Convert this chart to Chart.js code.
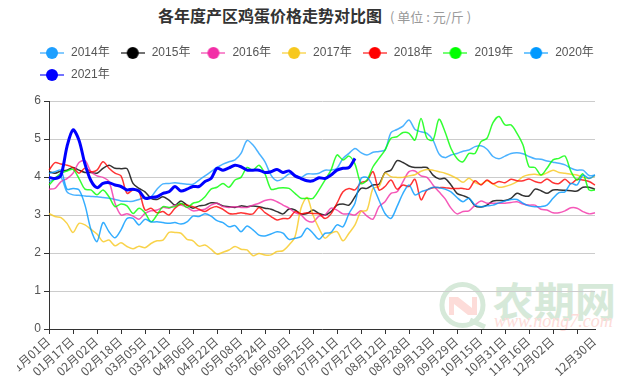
<!DOCTYPE html>
<html lang="zh-CN">

<head>
    <meta charset="UTF-8">
    <title>各年度产区鸡蛋价格走势对比图</title>
    <script src="https://cdn.jsdelivr.net/npm/chart.js"></script>
    <style>
        body {
            margin: 0;
            background: #fff;
            font-family: "Noto Sans CJK SC", sans-serif;
        }

        .wrap {
            position: relative;
            width: 622px;
            height: 383px;
            overflow: hidden;
        }

        /* Title row */
        .title {
            position: absolute;
            left: 158px;
            top: 3px;
            font-size: 16px;
            line-height: 24px;
            font-weight: bold;
            color: #333;
            white-space: nowrap;
        }

        .title span {
            margin-left: 8px;
            font-size: 13px;
            font-weight: normal;
            color: #999;
        }

        /* Watermark sits behind the canvas */
        .mark {
            position: absolute;
            left: 0;
            top: 0;
        }

        .mark-cn {
            position: absolute;
            left: 493px;
            top: 275px;
            font-size: 41px;
            line-height: 48px;
            color: #d6e9d9;
            white-space: nowrap;
            font-family: "Noto Sans CJK SC", sans-serif;
            font-weight: bold;
        }

        .mark-url {
            position: absolute;
            left: 494px;
            top: 311px;
            font-size: 18px;
            line-height: 20px;
            font-style: italic;
            color: #fddcd9;
            white-space: nowrap;
            font-family: "Liberation Serif", serif;
        }

        canvas {
            position: absolute;
            left: 17px;
            top: 0;
        }
    </style>
</head>

<body>
    <div class="wrap">
        <svg class="mark" width="622" height="383">
            <circle cx="462.5" cy="305" r="20.5" fill="none" stroke="#d6e9d9" stroke-width="5"></circle>
            <path d="M470 320 L485 327" stroke="#d6e9d9" stroke-width="5" fill="none"></path>
            <path d="M449 297 V315 H454 V304 L468 315 H477 V297 H472 V308 L458 297 Z" fill="#fddcd9"></path>
        </svg>
        <div class="mark-cn">农期网</div>
        <div class="mark-url">www.nong7.com</div>
        <div class="title">各年度产区鸡蛋价格走势对比图<span>( 单位 : 元/斤 )</span></div>
        <canvas id="eggChart" width="605" height="383"></canvas>
    </div>

    <script>
        // Categories: one every 4 days, a tick label shows on every 4th of them
        const dates = [
            '01月01日', '01月05日', '01月09日', '01月13日', '01月17日', '01月21日', '01月25日', '01月29日',
            '02月02日', '02月06日', '02月10日', '02月14日', '02月18日', '02月22日', '02月26日',
            '03月01日', '03月05日', '03月09日', '03月13日', '03月17日', '03月21日', '03月25日', '03月29日',
            '04月02日', '04月06日', '04月10日', '04月14日', '04月18日', '04月22日', '04月26日', '04月30日',
            '05月04日', '05月08日', '05月12日', '05月16日', '05月20日', '05月24日', '05月28日',
            '06月01日', '06月05日', '06月09日', '06月13日', '06月17日', '06月21日', '06月25日', '06月29日',
            '07月03日', '07月07日', '07月11日', '07月15日', '07月19日', '07月23日', '07月27日', '07月31日',
            '08月04日', '08月08日', '08月12日', '08月16日', '08月20日', '08月24日', '08月28日',
            '09月01日', '09月05日', '09月09日', '09月13日', '09月17日', '09月21日', '09月25日', '09月29日',
            '10月03日', '10月07日', '10月11日', '10月15日', '10月19日', '10月23日', '10月27日', '10月31日',
            '11月04日', '11月08日', '11月12日', '11月16日', '11月20日', '11月24日', '11月28日',
            '12月02日', '12月06日', '12月10日', '12月14日', '12月18日', '12月22日', '12月26日', '12月30日'
        ];

        const years = ['2014年', '2015年', '2016年', '2017年', '2018年', '2019年', '2020年', '2021年'];

        const prices2014 = [
            3.88, 3.94, 3.99, 3.61, 3.53, 3.52, 3.50, 3.49, 3.48, 3.46, 3.44, 3.41, 3.37, 3.36, 3.36, 3.41,
            3.46, 3.48, 3.68, 3.82, 3.83, 3.85, 3.83, 3.81, 3.81, 3.92, 4.03, 4.14, 4.25, 4.34, 4.40, 4.45,
            4.62, 4.96, 4.84, 4.62, 4.40, 4.05, 3.90, 3.96, 4.08, 4.05, 3.99, 4.08, 4.08, 4.10, 4.18, 4.18,
            4.23, 4.49, 4.62, 4.75, 4.64, 4.58, 4.65, 4.67, 4.71, 5.17, 5.25, 5.34, 5.50, 5.25, 5.19, 5.15,
            4.97, 4.61, 4.51, 4.58, 4.62, 4.68, 4.71, 4.80, 4.82, 4.73, 4.54, 4.48, 4.55, 4.62, 4.64, 4.61,
            4.54, 4.48, 4.47, 4.42, 4.39, 4.36, 4.32, 4.23, 4.18, 4.18, 4.04, 4.05
        ];
        const prices2015 = [
            4.14, 4.10, 4.16, 4.18, 4.25, 4.18, 4.12, 4.12, 4.10, 4.23, 4.31, 4.23, 4.22, 4.22, 3.83, 3.70,
            3.61, 3.44, 3.41, 3.48, 3.39, 3.26, 3.37, 3.26, 3.18, 3.24, 3.26, 3.32, 3.31, 3.24, 3.22, 3.20,
            3.24, 3.22, 3.24, 3.22, 3.18, 3.15, 3.09, 3.03, 3.16, 3.13, 3.03, 3.04, 3.13, 3.04, 3.00, 3.09,
            3.26, 3.29, 3.26, 3.48, 3.70, 3.70, 3.79, 3.81, 4.12, 4.18, 4.43, 4.38, 4.29, 4.25, 4.25, 4.25,
            4.05, 3.95, 3.96, 3.79, 3.57, 3.51, 3.44, 3.24, 3.21, 3.26, 3.37, 3.38, 3.38, 3.44, 3.57, 3.51,
            3.50, 3.68, 3.64, 3.57, 3.66, 3.66, 3.65, 3.64, 3.63, 3.73, 3.73, 3.68
        ];
        const prices2016 = [
            3.68, 3.70, 3.88, 3.96, 4.10, 4.38, 4.43, 4.14, 4.03, 3.99, 3.88, 3.31, 3.00, 3.03, 2.97, 2.89,
            3.04, 3.11, 3.13, 3.20, 3.18, 3.26, 3.26, 3.20, 3.11, 3.13, 3.15, 3.26, 3.31, 3.22, 3.20, 3.22,
            3.20, 3.20, 3.26, 3.31, 3.38, 3.41, 3.35, 3.26, 3.18, 3.06, 3.00, 2.85, 2.82, 2.97, 3.00, 3.18,
            3.13, 3.03, 3.03, 3.00, 3.11, 2.97, 2.89, 3.22, 3.35, 3.57, 3.61, 3.88, 4.14, 4.16, 4.03, 3.99,
            3.79, 3.61, 3.43, 3.18, 3.03, 3.09, 3.11, 3.26, 3.37, 3.31, 3.31, 3.31, 3.31, 3.33, 3.35, 3.29,
            3.26, 3.26, 3.15, 3.13, 3.06, 3.06, 3.11, 3.19, 3.18, 3.09, 3.03, 3.06
        ];
        const prices2017 = [
            3.04, 2.96, 2.93, 2.78, 2.54, 2.78, 2.74, 2.62, 2.50, 2.30, 2.34, 2.19, 2.27, 2.17, 2.11, 2.18,
            2.14, 2.25, 2.32, 2.34, 2.54, 2.54, 2.52, 2.36, 2.32, 2.18, 2.21, 2.10, 1.97, 2.02, 2.08, 2.17,
            2.10, 2.08, 1.93, 1.99, 1.95, 1.95, 2.04, 2.06, 2.21, 2.43, 3.18, 3.46, 3.00, 2.65, 2.39, 2.52,
            2.56, 2.32, 2.52, 2.74, 3.09, 3.13, 3.70, 3.75, 4.10, 4.01, 3.99, 3.99, 4.03, 4.06, 4.15, 4.20,
            4.18, 4.14, 4.10, 4.04, 3.96, 3.86, 3.97, 3.85, 3.81, 3.90, 3.82, 3.73, 3.75, 3.80, 3.88, 4.01,
            4.06, 4.07, 4.05, 4.11, 4.18, 4.12, 4.10, 4.07, 4.05, 3.99, 3.96, 4.03
        ];
        const prices2018 = [
            4.18, 4.38, 4.34, 4.31, 4.25, 4.10, 4.23, 4.14, 4.18, 4.40, 4.23, 4.10, 4.03, 3.57, 3.66, 3.61,
            3.13, 3.18, 3.06, 3.09, 3.00, 3.18, 3.29, 3.26, 3.22, 3.15, 3.09, 3.18, 3.22, 3.15, 3.04, 3.03,
            3.06, 3.03, 3.03, 3.20, 3.06, 2.96, 2.87, 2.91, 2.91, 3.09, 3.03, 3.06, 3.04, 3.03, 2.91, 3.03,
            3.31, 3.61, 3.70, 3.66, 3.85, 3.90, 4.14, 3.66, 3.75, 3.92, 3.68, 3.79, 3.75, 3.94, 3.40, 3.66,
            3.72, 3.72, 3.72, 3.70, 3.70, 3.70, 3.68, 3.90, 3.79, 3.92, 3.82, 3.88, 3.85, 3.94, 3.90, 3.90,
            3.95, 3.88, 3.85, 3.95, 3.85, 3.83, 3.94, 3.82, 3.94, 3.92, 3.88, 3.79
        ];
        const prices2019 = [
            3.79, 3.96, 4.10, 4.16, 4.20, 3.96, 3.68, 3.66, 3.53, 3.66, 3.48, 3.22, 3.29, 3.24, 3.04, 3.18,
            3.06, 2.82, 3.00, 3.22, 3.20, 3.22, 3.31, 3.20, 3.31, 3.35, 3.48, 3.68, 3.73, 3.83, 3.73, 3.92,
            3.99, 4.25, 4.18, 4.31, 4.08, 3.68, 3.70, 3.72, 3.70, 3.57, 3.44, 3.44, 3.44, 3.66, 3.92, 4.18,
            4.58, 4.45, 4.55, 4.34, 3.83, 3.92, 4.27, 4.49, 4.71, 5.02, 5.06, 5.17, 5.15, 4.97, 5.54, 5.02,
            4.97, 5.52, 5.19, 4.75, 4.49, 4.40, 4.62, 4.62, 4.93, 5.02, 5.43, 5.59, 5.37, 5.37, 5.15, 4.84,
            4.27, 4.25, 4.05, 4.23, 4.45, 4.49, 4.55, 4.14, 3.92, 4.08, 3.66, 3.66
        ];
        const prices2020 = [
            4.10, 4.14, 4.18, 3.68, 3.70, 3.66, 3.26, 2.61, 2.30, 2.80, 2.56, 2.40, 2.61, 2.91, 2.91, 2.74,
            2.89, 2.82, 2.82, 2.80, 2.78, 2.80, 2.76, 2.82, 2.97, 2.96, 3.03, 2.97, 2.85, 2.80, 2.69, 2.72,
            2.56, 2.71, 2.61, 2.47, 2.45, 2.50, 2.56, 2.52, 2.36, 2.39, 2.43, 2.65, 2.52, 2.36, 2.52, 2.54,
            2.74, 2.69, 3.04, 3.31, 3.96, 3.99, 3.75, 3.39, 3.04, 2.91, 3.22, 3.57, 3.79, 3.53, 3.61, 3.66,
            3.73, 3.72, 3.68, 3.61, 3.46, 3.35, 3.44, 3.26, 3.22, 3.24, 3.26, 3.32, 3.37, 3.41, 3.41, 3.31,
            3.24, 3.22, 3.22, 3.26, 3.44, 3.59, 3.61, 3.83, 3.79, 4.05, 3.96, 4.05
        ];
        const prices2021 = [
            3.99, 3.96, 4.05, 4.80, 5.24, 4.97, 4.34, 3.90, 3.72, 3.83, 3.85, 3.79, 3.75, 3.66, 3.68, 3.63,
            3.44, 3.46, 3.48, 3.57, 3.61, 3.75, 3.63, 3.68, 3.75, 3.75, 3.88, 3.96, 4.23, 4.18, 4.24, 4.31,
            4.27, 4.18, 4.18, 4.18, 4.12, 4.14, 4.20, 4.12, 4.16, 4.03, 3.96, 3.90, 3.90, 3.98, 3.96, 4.05,
            4.18, 4.23, 4.25, 4.49
        ];

        const lineColors = ['#1e9fff', '#000000', '#f22ea6', '#f7c81e', '#ff0000', '#00ff00', '#0099ff', '#0000ff'];
        const seriesPrices = [prices2014, prices2015, prices2016, prices2017, prices2018, prices2019, prices2020, prices2021];

        // Line with a dot on it, the legend marker of the original
        function legendMarker(color) {
            const c = document.createElement('canvas');
            c.width = 24;
            c.height = 14;
            const g = c.getContext('2d');
            g.globalAlpha = 0.55;
            g.fillStyle = color;
            g.fillRect(0, 6, 24, 2);
            g.globalAlpha = 1;
            g.beginPath();
            g.arc(12, 7, 6, 0, Math.PI * 2);
            g.fill();
            return c;
        }

        const datasets = years.map((year, i) => ({
            label: year,
            data: seriesPrices[i],
            borderColor: i === 7 ? lineColors[i] : lineColors[i] + 'cc',
            backgroundColor: lineColors[i],
            borderWidth: i === 7 ? 3 : 1.5,
            pointRadius: 0,
            pointStyle: legendMarker(lineColors[i]),
            tension: 0.3,
            fill: false,
            order: years.length - i
        }));

        // Leaves room between the legend and the plot
        const legendGap = {
            id: 'legendGap',
            beforeInit(chart) {
                const fit = chart.legend.fit;
                chart.legend.fit = function () {
                    fit.call(this);
                    this.height += 10;
                };
            }
        };

        new Chart(document.getElementById('eggChart'), {
            type: 'line',
            data: { labels: dates, datasets: datasets },
            plugins: [legendGap],
            options: {
                responsive: false,
                animation: false,
                events: [],
                layout: { padding: { left: 12, top: 35 } },
                plugins: {
                    tooltip: { enabled: false },
                    legend: {
                        position: 'top',
                        align: 'start',
                        labels: {
                            usePointStyle: true,
                            pointStyleWidth: 26,
                            padding: 10,
                            color: '#555',
                            font: { size: 12, family: '"Liberation Sans", "Noto Sans CJK SC", sans-serif' },
                            // "order" above only stacks the lines, keep the legend by year
                            sort: (a, b) => a.datasetIndex - b.datasetIndex
                        }
                    }
                },
                scales: {
                    x: {
                        grid: {
                            drawOnChartArea: false,
                            tickLength: 5,
                            tickColor: ctx => (ctx.index % 4 === 0 ? '#333' : 'transparent')
                        },
                        border: { color: '#333' },
                        ticks: {
                            autoSkip: false,
                            minRotation: 42,
                            maxRotation: 42,
                            padding: 0,
                            labelOffset: -1,
                            color: '#555',
                            font: { size: 12, family: '"Noto Sans CJK SC", sans-serif' },
                            // label every 16 days, the one before the last stays empty
                            callback: function (value, index) {
                                if (index === 91) return this.getLabelForValue(value);
                                if (index % 4 !== 0 || index === 88) return '';
                                return this.getLabelForValue(value);
                            }
                        },
                        afterFit: scale => {
                            scale.height = 54;
                            scale.paddingLeft = 0;
                            scale.paddingRight = 27;
                        }
                    },
                    y: {
                        min: 0,
                        max: 6,
                        grid: { color: '#ccc', tickLength: 5, tickColor: '#333' },
                        border: { color: '#333' },
                        ticks: {
                            stepSize: 1,
                            padding: 3,
                            color: '#555',
                            font: { size: 12, family: '"Liberation Sans", sans-serif' }
                        },
                        afterFit: scale => {
                            scale.width = 20;
                            scale.paddingTop = 101;
                        }
                    }
                }
            }
        });
    </script>
</body>

</html>
